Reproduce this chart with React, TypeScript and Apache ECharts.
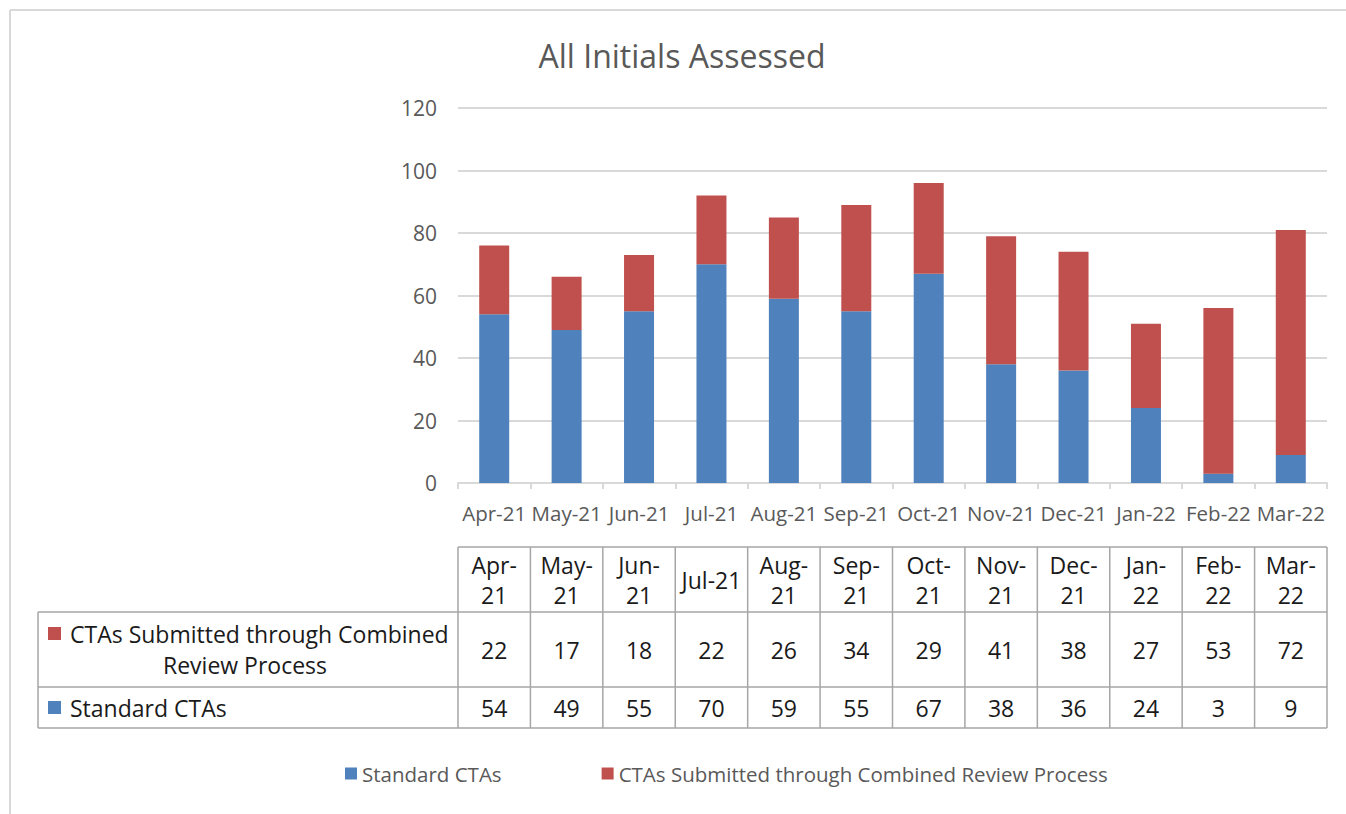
import React, { useEffect, useRef } from "react";
import * as echarts from "echarts";

const categories = ["Apr-21", "May-21", "Jun-21", "Jul-21", "Aug-21", "Sep-21", "Oct-21", "Nov-21", "Dec-21", "Jan-22", "Feb-22", "Mar-22"];
const tableHeaders = ["Apr-\n21", "May-\n21", "Jun-\n21", "Jul-21", "Aug-\n21", "Sep-\n21", "Oct-\n21", "Nov-\n21", "Dec-\n21", "Jan-\n22", "Feb-\n22", "Mar-\n22"];
const standardCTAs = [54, 49, 55, 70, 59, 55, 67, 38, 36, 24, 3, 9];
const combinedCTAs = [22, 17, 18, 22, 26, 34, 29, 41, 38, 27, 53, 72];
const seriesNames = ["Standard CTAs", "CTAs Submitted through Combined Review Process"];
const yTicks = { min: 0, max: 120, interval: 20 };

const BLUE = "#4F81BD";
const RED = "#C0504D";
const GRAY = "#595959";
const FONT = "'Open Sans', Lato, sans-serif";

export default function App() {
  const ref = useRef<HTMLDivElement>(null);
  useEffect(() => {
    if (!ref.current) return;
    const chart = echarts.init(ref.current, null, { renderer: "svg" });
    const gridLeft = 458;
    const gridRight = 19;
    const gridTop = 108;
    const gridBottom = 331;
    chart.setOption({
      animation: false,
      backgroundColor: "#ffffff",
      textStyle: { fontFamily: FONT },
      title: {
        text: "All Initials Assessed",
        left: 677,
        top: 34,
        textAlign: "center",
        textStyle: { fontFamily: FONT, fontSize: 32, fontWeight: "normal", color: GRAY },
      },
      legend: {
        data: seriesNames,
        left: 340,
        top: 758,
        itemWidth: 12,
        itemHeight: 12,
        itemGap: 100,
        icon: "rect",
        textStyle: { fontFamily: FONT, fontSize: 20.5, color: GRAY },
      },
      grid: { left: gridLeft, right: gridRight, top: gridTop, bottom: gridBottom, containLabel: false },
      xAxis: {
        type: "category",
        data: categories,
        axisLine: { lineStyle: { color: "#d9d9d9", width: 2 } },
        axisTick: { show: true, alignWithLabel: false, length: 6, lineStyle: { color: "#d9d9d9", width: 2 } },
        axisLabel: { fontFamily: FONT, fontSize: 20.5, color: GRAY, margin: 19, interval: 0 },
      },
      yAxis: {
        type: "value",
        min: yTicks.min,
        max: yTicks.max,
        interval: yTicks.interval,
        axisLine: { show: false },
        axisTick: { show: false },
        splitLine: { lineStyle: { color: "#d9d9d9", width: 2 } },
        axisLabel: { fontFamily: FONT, fontSize: 21, color: GRAY, margin: 21 },
      },
      series: [
        {
          name: seriesNames[0],
          type: "bar",
          stack: "total",
          data: standardCTAs,
          barWidth: 30,
          itemStyle: { color: BLUE },
        },
        {
          name: seriesNames[1],
          type: "bar",
          stack: "total",
          data: combinedCTAs,
          barWidth: 30,
          itemStyle: { color: RED },
        },
      ],
    });

    // Build data table from axis positions
    const centers = categories.map((_, i) => chart.convertToPixel({ xAxisIndex: 0 }, i) as number);
    const band = centers.length > 1 ? centers[1] - centers[0] : 72;
    const bounds = centers.map((c) => c - band / 2).concat([centers[centers.length - 1] + band / 2]);
    const tableLeft = 38;
    const rowY = [547, 612, 687, 728];
    const borderStyle = { stroke: "#a6a6a6", lineWidth: 1.5 };
    const els: any[] = [];
    // outer frame lines
    els.push({ type: "line", shape: { x1: 10, y1: 10, x2: 1346, y2: 10 }, style: { stroke: "#d9d9d9", lineWidth: 2 } });
    els.push({ type: "line", shape: { x1: 10, y1: 10, x2: 10, y2: 814 }, style: { stroke: "#d9d9d9", lineWidth: 2 } });
    // horizontal lines
    els.push({ type: "line", shape: { x1: bounds[0], y1: rowY[0], x2: bounds[12], y2: rowY[0] }, style: borderStyle });
    for (let r = 1; r < rowY.length; r++) {
      els.push({ type: "line", shape: { x1: tableLeft, y1: rowY[r], x2: bounds[12], y2: rowY[r] }, style: borderStyle });
    }
    // vertical lines
    els.push({ type: "line", shape: { x1: tableLeft, y1: rowY[1], x2: tableLeft, y2: rowY[3] }, style: borderStyle });
    bounds.forEach((b) => {
      els.push({ type: "line", shape: { x1: b, y1: rowY[0], x2: b, y2: rowY[3] }, style: borderStyle });
    });
    const cellText = { fontFamily: FONT, fontSize: 23, fill: "#1a1a1a", align: "center", verticalAlign: "middle" };
    tableHeaders.forEach((h, i) => {
      els.push({ type: "text", x: centers[i], y: (rowY[0] + rowY[1]) / 2, style: { ...cellText, text: h, lineHeight: 30 } });
      els.push({ type: "text", x: centers[i], y: (rowY[1] + rowY[2]) / 2, style: { ...cellText, text: String(combinedCTAs[i]) } });
      els.push({ type: "text", x: centers[i], y: (rowY[2] + rowY[3]) / 2, style: { ...cellText, text: String(standardCTAs[i]) } });
    });
    // row labels
    els.push({ type: "rect", shape: { x: 48, y: 627, width: 13, height: 13 }, style: { fill: RED } });
    els.push({ type: "text", x: 70, y: 634, style: { ...cellText, align: "left", text: "CTAs Submitted through Combined" } });
    els.push({ type: "text", x: 245, y: 665, style: { ...cellText, text: "Review Process" } });
    els.push({ type: "rect", shape: { x: 48, y: 701, width: 13, height: 13 }, style: { fill: BLUE } });
    els.push({ type: "text", x: 70, y: 708, style: { ...cellText, align: "left", text: "Standard CTAs" } });
    chart.setOption({ graphic: { elements: els } });

    return () => chart.dispose();
  }, []);
  return <div ref={ref} style={{ position: "fixed", left: 0, top: 0, width: 1346, height: 814 }} />;
}
